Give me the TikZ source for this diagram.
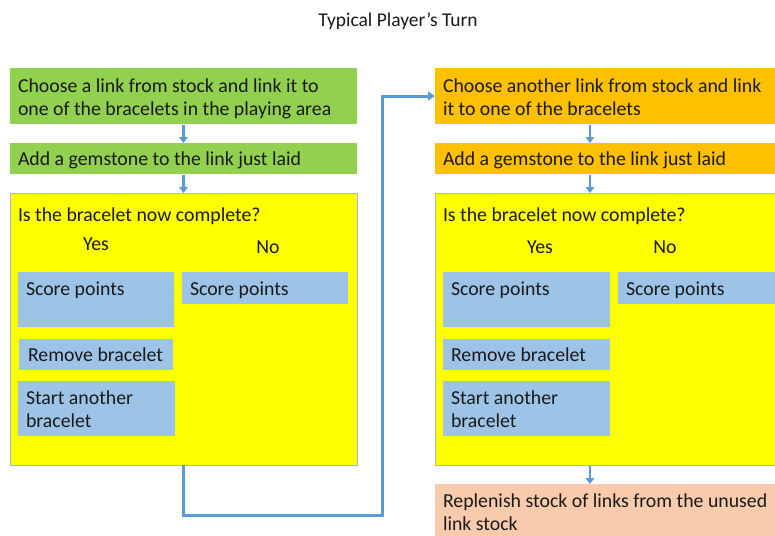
\documentclass[tikz,border=0pt]{standalone}
\usepackage{fontspec}
\setmainfont{Carlito}
\usetikzlibrary{arrows.meta}
\definecolor{cgreen}{HTML}{92D050}
\definecolor{corange}{HTML}{FFC000}
\definecolor{cyellow}{HTML}{FFFF00}
\definecolor{cblue}{HTML}{9DC3E6}
\definecolor{csalmon}{HTML}{F8CBAD}
\definecolor{carrow}{HTML}{5B9BD5}
\definecolor{cedge}{HTML}{A8B8C8}
\definecolor{ctext}{HTML}{1A1A1A}
\begin{document}
\begin{tikzpicture}[x=1pt,y=-1pt,
  box/.style={anchor=north west, inner sep=0pt, outer sep=0pt, draw=none},
  txt/.style={anchor=base west, inner sep=0pt, outer sep=0pt, text=ctext, font=\fontsize{19.8}{23}\selectfont},
  ctxt/.style={anchor=base, inner sep=0pt, outer sep=0pt, text=ctext, font=\fontsize{19.8}{23}\selectfont},
  flow/.style={draw=carrow, line width=2.6pt, -{Triangle[width=8.5pt,length=6pt]}},
  link/.style={draw=carrow, line width=3pt, -{Triangle[width=9pt,length=7pt]}}]
\useasboundingbox (0,0) rectangle (775,535);
\clip (0,0) rectangle (775,535);
\fill[white] (0,0) rectangle (775,535);
% title
\node[anchor=base, inner sep=0pt, text=ctext, font=\fontsize{19.5}{22}\selectfont] (title) at (398,27) {Typical Player’s Turn};
% ---------- left column ----------
\node[box, fill=cgreen, minimum width=347pt, minimum height=56pt] (g1) at (10,68) {};
\node[txt] (g1a) at (18,92) {Choose a link from stock and link it to};
\node[txt] (g1b) at (18,115) {one of the bracelets in the playing area};
\node[box, fill=cgreen, minimum width=347pt, minimum height=31pt] (g2) at (10,143) {};
\node[txt] (g2a) at (18,165) {Add a gemstone to the link just laid};
\node[box, fill=cyellow, draw=cedge, line width=0.8pt, minimum width=347pt, minimum height=272pt] (yl) at (10,193) {};
\node[txt] (ylq) at (18,221) {Is the bracelet now complete?};
\node[ctxt] (lyes) at (96,250) {Yes};
\node[ctxt] (lno) at (268,253) {No};
\node[box, fill=cblue, minimum width=156pt, minimum height=55pt] (ls1) at (18,272) {};
\node[txt] (ls1t) at (26,295) {Score points};
\node[box, fill=cblue, minimum width=166pt, minimum height=32pt] (ls2) at (182,272) {};
\node[txt] (ls2t) at (190,295) {Score points};
\node[box, fill=cblue, minimum width=154pt, minimum height=31pt] (lrm) at (19,339) {};
\node[txt] (lrmt) at (28,361) {Remove bracelet};
\node[box, fill=cblue, minimum width=157pt, minimum height=55pt] (lst) at (18,381) {};
\node[txt] (lsta) at (26,404) {Start another};
\node[txt] (lstb) at (26,427) {bracelet};
% ---------- right column ----------
\node[box, fill=corange, minimum width=360pt, minimum height=56pt] (o1) at (435,68) {};
\node[txt] (o1a) at (443,92) {Choose another link from stock and link};
\node[txt] (o1b) at (443,115) {it to one of the bracelets};
\node[box, fill=corange, minimum width=360pt, minimum height=31pt] (o2) at (435,143) {};
\node[txt] (o2a) at (443,165) {Add a gemstone to the link just laid};
\node[box, fill=cyellow, draw=cedge, line width=0.8pt, minimum width=360pt, minimum height=272pt] (yr) at (435,193) {};
\node[txt] (yrq) at (443,221) {Is the bracelet now complete?};
\node[ctxt] (ryes) at (540,253) {Yes};
\node[ctxt] (rno) at (665,253) {No};
\node[box, fill=cblue, minimum width=167pt, minimum height=55pt] (rs1) at (443,272) {};
\node[txt] (rs1t) at (451,295) {Score points};
\node[box, fill=cblue, minimum width=170pt, minimum height=32pt] (rs2) at (618,272) {};
\node[txt] (rs2t) at (626,295) {Score points};
\node[box, fill=cblue, minimum width=167pt, minimum height=31pt] (rrm) at (443,339) {};
\node[txt] (rrmt) at (451,361) {Remove bracelet};
\node[box, fill=cblue, minimum width=167pt, minimum height=55pt] (rst) at (443,381) {};
\node[txt] (rsta) at (451,404) {Start another};
\node[txt] (rstb) at (451,427) {bracelet};
\node[box, fill=csalmon, minimum width=360pt, minimum height=60pt] (sal) at (435,484) {};
\node[txt] (sala) at (443,507) {Replenish stock of links from the unused};
\node[txt] (salb) at (443,530) {link stock};
% ---------- connectors ----------
\coordinate (ax) at (590,0);
\draw[flow] ([yshift=-1pt]g1.south) -- (g2.north);
\draw[flow] ([yshift=-1pt]g2.south) -- (yl.north);
\draw[flow] ([yshift=-1pt]o1.south -| ax) -- (o2.north -| ax);
\draw[flow] ([yshift=-1pt]o2.south -| ax) -- (yr.north -| ax);
\draw[flow] ([yshift=-1pt]yr.south -| ax) -- (sal.north -| ax);
\coordinate (turn) at (382,515);
\draw[link] (yl.south) |- (turn) |- (o1.west);
\end{tikzpicture}
\end{document}
